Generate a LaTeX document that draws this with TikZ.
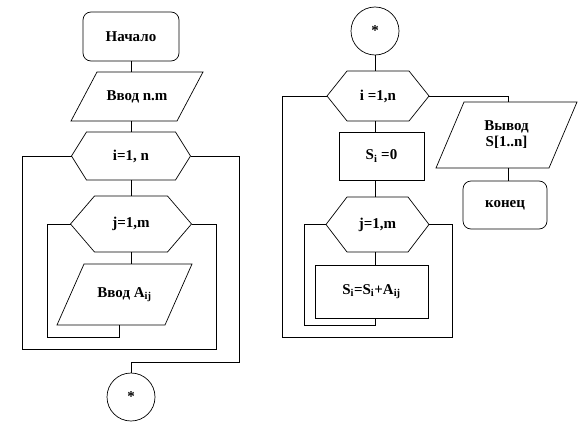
\documentclass[tikz,border=0pt]{standalone}
\usepackage{fontspec}
\setmainfont{Liberation Serif}
\usetikzlibrary{calc}
\tikzset{
  txt/.style={inner sep=0pt, outer sep=0pt, font=\fontsize{15}{16}\selectfont\bfseries, align=center},
  shp/.style={draw=black, line width=0.7pt},
  conn/.style={draw=black, line width=0.7pt},
  term/.style={txt, shp, rounded corners=8pt},
  procbox/.style={txt, shp},
  conncircle/.style={txt, shp, circle, minimum size=48pt}
}
% hexagon: name, position, width, height, slant, text
\newcommand\hexbox[6]{%
  \node[txt, minimum width=#3, minimum height=#4] (#1) at (#2) {#6};
  \draw[shp] (#1.west) -- ([xshift=#5]#1.north west) -- ([xshift=-#5]#1.north east)
     -- (#1.east) -- ([xshift=-#5]#1.south east) -- ([xshift=#5]#1.south west) -- cycle;}
% parallelogram: name, position, total width, height, slant, text
\newcommand\parabox[6]{%
  \node[txt, minimum width=#3, minimum height=#4] (#1) at (#2) {#6};
  \draw[shp] (#1.south west) -- ([xshift=#5]#1.north west) -- (#1.north east)
     -- ([xshift=-#5]#1.south east) -- cycle;}
\begin{document}
\begin{tikzpicture}[x=1pt,y=-1pt]
\useasboundingbox (0,0) rectangle (580,423);
% ---------- left column ----------
\node[term, minimum width=96pt, minimum height=49pt] (start) at (131,36.5) {Начало};
\parabox{in1}{137,96.5}{132pt}{49pt}{26pt}{Ввод n.m}
\hexbox{hexi}{131,156}{119pt}{48pt}{15pt}{i=1, n}
\hexbox{hexj}{131,224}{121pt}{56pt}{24pt}{j=1,m}
\parabox{in2}{124.5,294.5}{135pt}{61pt}{27pt}{Ввод A\textsubscript{ij}}
\node[conncircle] (c1) at (131,397) {*};

\draw[conn] (start.south) -- (start.south |- in1.north);
\draw[conn] (start.south |- in1.south) -- (hexi.north);
\draw[conn] (hexi.south) -- (hexj.north);
\draw[conn] (hexj.south) -- (hexj.south |- in2.north);

\coordinate (jb) at (119,337);
\coordinate (jl) at (47,337);
\draw[conn] (jb |- in2.south) -- (jb) -- (jl) |- (hexj.west);

\coordinate (ir) at (216,349);
\coordinate (il) at (22,349);
\draw[conn] (hexj.east) -| (ir) -- (il) |- (hexi.west);

\coordinate (ex) at (239,362);
\draw[conn] (hexi.east) -| (ex) -- (ex -| c1) -- (c1.north);

% ---------- right column ----------
\node[conncircle] (c2) at (375,31) {*};
\hexbox{hexi2}{378,96}{102pt}{50pt}{20pt}{i =1,n}
\node[procbox, minimum width=85pt, minimum height=48pt] (s0) at (381.5,156) {S\textsubscript{i} =0};
\hexbox{hexj2}{377.5,224.5}{103pt}{55pt}{21pt}{j=1,m}
\node[procbox, minimum width=113pt, minimum height=53pt] (sum) at (371.5,291.5) {S\textsubscript{i}=S\textsubscript{i}+A\textsubscript{ij}};
\parabox{out}{506.5,135}{141pt}{66pt}{28pt}{Вывод\\S[1..n]}
\node[term, minimum width=84pt, minimum height=48pt] (fin) at (505,205) {конец};

\draw[conn] (c2.south) -- (c2.south |- hexi2.north);
\draw[conn] (c2.south |- hexi2.south) -- (c2.south |- s0.north);
\draw[conn] (c2.south |- s0.south) -- (c2.south |- hexj2.north);
\draw[conn] (c2.south |- hexj2.south) -- (c2.south |- sum.north);

\coordinate (jb2) at (375,325);
\coordinate (jl2) at (304,325);
\draw[conn] (jb2 |- sum.south) -- (jb2) -- (jl2) |- (hexj2.west);

\coordinate (ir2) at (452,337);
\coordinate (il2) at (282,337);
\draw[conn] (hexj2.east) -| (ir2) -- (il2) |- (hexi2.west);

\coordinate (oc) at (508,0);
\draw[conn] (hexi2.east) -| (oc |- out.north);
\draw[conn] (oc |- out.south) -- (oc |- fin.north);
\end{tikzpicture}
\end{document}
